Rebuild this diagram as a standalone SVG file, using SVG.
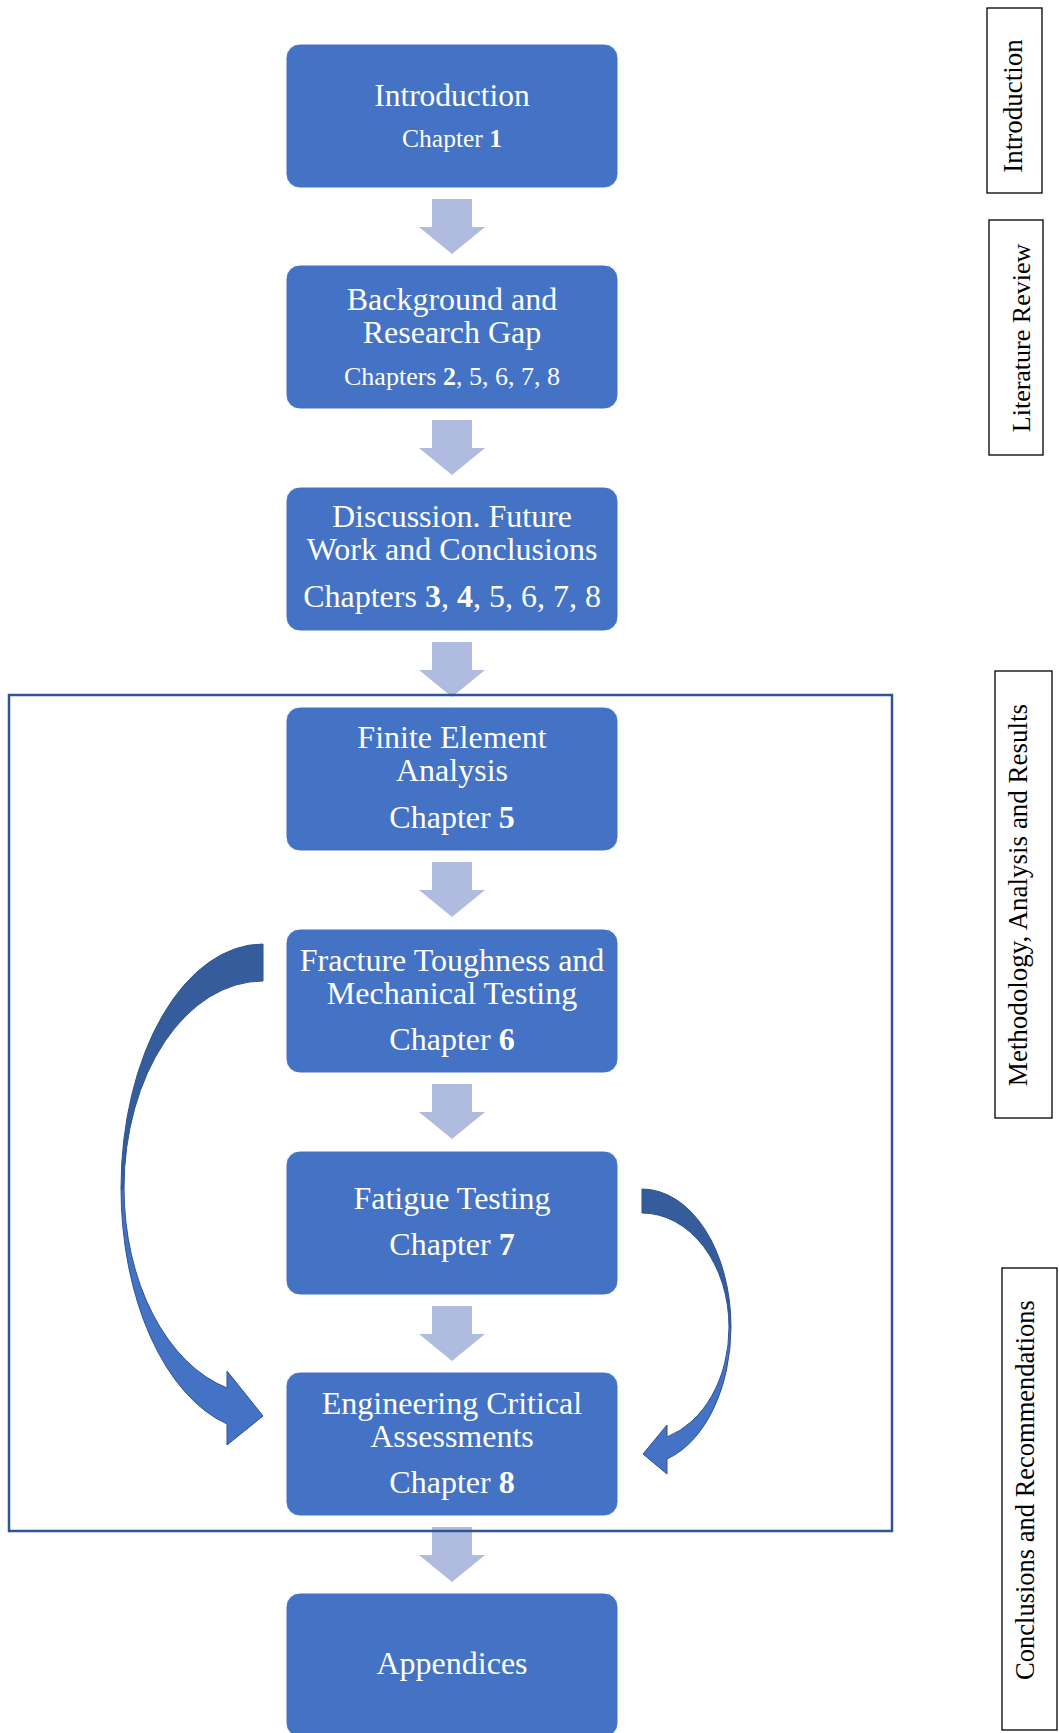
<svg xmlns="http://www.w3.org/2000/svg" width="1059" height="1733" viewBox="0 0 1059 1733">
<style>
.box{fill:#4472C4;stroke:#ffffff;stroke-width:1}
.t{font-family:"Liberation Serif","Times New Roman",serif;fill:#ffffff;text-anchor:middle}
.lbl{font-family:"Liberation Serif","Times New Roman",serif;fill:#000000;text-anchor:middle}
.lblbox{fill:#ffffff;stroke:#000000;stroke-width:1.3}
.down{fill:#AFBCE0}
.cdark{fill:#355D9C;stroke:#2F528F;stroke-width:1}
.clight{fill:#4472C4;stroke:#2F528F;stroke-width:1}
</style>
<rect width="1059" height="1733" fill="#ffffff"/>

<g id="connectors">
  <path class="down" d="M432,199 H472 V227 H485 L452,254 L419,227 H432 Z"/>
  <path class="down" d="M432,420 H472 V448 H485 L452,475 L419,448 H432 Z"/>
  <path class="down" d="M432,642 H472 V670 H485 L452,697 L419,670 H432 Z"/>
  <path class="down" d="M432,862 H472 V890 H485 L452,917 L419,890 H432 Z"/>
  <path class="down" d="M432,1084 H472 V1112 H485 L452,1139 L419,1112 H432 Z"/>
  <path class="down" d="M432,1306 H472 V1334 H485 L452,1361 L419,1334 H432 Z"/>
  <path class="down" d="M432,1527 H472 V1555 H485 L452,1582 L419,1555 H432 Z"/>
  <g id="curved-left">
    <path class="cdark" d="M263,944 A142 244 0 0 0 121,1188 L124,1188 A139 207 0 0 1 263,981 Z"/>
    <path class="clight" d="M121,1188 A142 244 0 0 0 227,1424 L227,1445 L263,1416 L227,1371 L227,1388 A139 207 0 0 1 124,1188 Z"/>
  </g>
  <g id="curved-right">
    <path class="cdark" d="M642,1189 A89 138 0 0 1 731,1327 L729,1327 A87 114 0 0 0 642,1213 Z"/>
    <path class="clight" d="M731,1327 A89 138 0 0 1 667,1459 L667,1474 L643,1454 L667,1425 L667,1437 A87 114 0 0 0 729,1327 Z"/>
  </g>
</g>

<rect id="frame" x="9" y="695" width="883" height="836" fill="none" stroke="#2F5597" stroke-width="2.5"/>

<g id="n-intro">
  <rect class="box" x="286" y="44" width="332" height="144" rx="14"/>
  <text class="t" x="452" y="106" font-size="31.5">Introduction</text>
  <text class="t" x="452" y="147" font-size="25.5">Chapter <tspan font-weight="bold">1</tspan></text>
</g>
<g id="n-background">
  <rect class="box" x="286" y="265" width="332" height="144" rx="14"/>
  <text class="t" x="452" y="310" font-size="32">Background and</text>
  <text class="t" x="452" y="343" font-size="32">Research Gap</text>
  <text class="t" x="452" y="385" font-size="26">Chapters <tspan font-weight="bold">2</tspan>, 5, 6, 7, 8</text>
</g>
<g id="n-discussion">
  <rect class="box" x="286" y="487" width="332" height="144" rx="14"/>
  <text class="t" x="452" y="527" font-size="32">Discussion. Future</text>
  <text class="t" x="452" y="560" font-size="32">Work and Conclusions</text>
  <text class="t" x="452" y="607" font-size="32">Chapters <tspan font-weight="bold">3</tspan>, <tspan font-weight="bold">4</tspan>, 5, 6, 7, 8</text>
</g>
<g id="n-fea">
  <rect class="box" x="286" y="707" width="332" height="144" rx="14"/>
  <text class="t" x="452" y="748" font-size="32">Finite Element</text>
  <text class="t" x="452" y="781" font-size="32">Analysis</text>
  <text class="t" x="452" y="828" font-size="32">Chapter <tspan font-weight="bold">5</tspan></text>
</g>
<g id="n-fracture">
  <rect class="box" x="286" y="929" width="332" height="144" rx="14"/>
  <text class="t" x="452" y="971" font-size="32">Fracture Toughness and</text>
  <text class="t" x="452" y="1004" font-size="32">Mechanical Testing</text>
  <text class="t" x="452" y="1050" font-size="32">Chapter <tspan font-weight="bold">6</tspan></text>
</g>
<g id="n-fatigue">
  <rect class="box" x="286" y="1151" width="332" height="144" rx="14"/>
  <text class="t" x="452" y="1209" font-size="32">Fatigue Testing</text>
  <text class="t" x="452" y="1255" font-size="32">Chapter <tspan font-weight="bold">7</tspan></text>
</g>
<g id="n-eca">
  <rect class="box" x="286" y="1372" width="332" height="144" rx="14"/>
  <text class="t" x="452" y="1414" font-size="32">Engineering Critical</text>
  <text class="t" x="452" y="1447" font-size="32">Assessments</text>
  <text class="t" x="452" y="1493" font-size="32">Chapter <tspan font-weight="bold">8</tspan></text>
</g>
<g id="n-appendices">
  <rect class="box" x="286" y="1593" width="332" height="144" rx="14"/>
  <text class="t" x="452" y="1674" font-size="32">Appendices</text>
</g>

<g id="label-introduction">
  <rect class="lblbox" x="987" y="8" width="55" height="185"/>
  <text class="lbl" font-size="27" transform="translate(1022,106) rotate(-90)">Introduction</text>
</g>
<g id="label-literature">
  <rect class="lblbox" x="989" y="220" width="54" height="235"/>
  <text class="lbl" font-size="26" transform="translate(1030,338) rotate(-90)">Literature Review</text>
</g>
<g id="label-methodology">
  <rect class="lblbox" x="995" y="671" width="57" height="447"/>
  <text class="lbl" font-size="27" transform="translate(1027,895) rotate(-90)">Methodology, Analysis and Results</text>
</g>
<g id="label-conclusions">
  <rect class="lblbox" x="1002" y="1268" width="55" height="462"/>
  <text class="lbl" font-size="26.5" transform="translate(1034,1490) rotate(-90)">Conclusions and Recommendations</text>
</g>
</svg>
